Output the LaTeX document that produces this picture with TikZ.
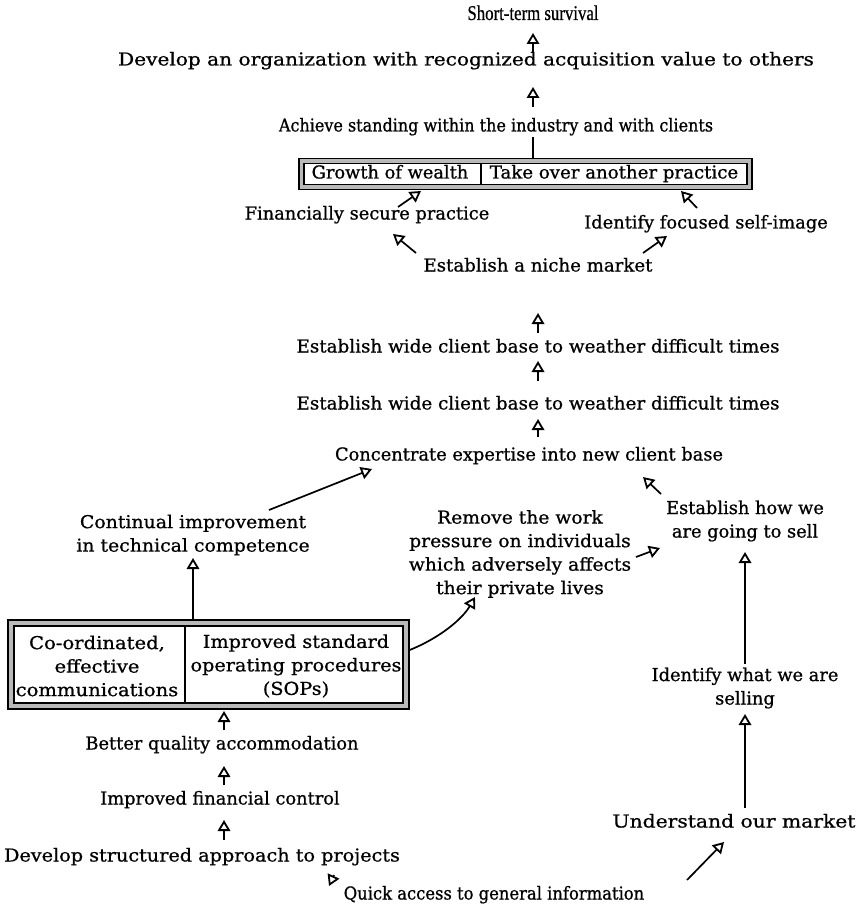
\documentclass[tikz,border=0pt]{standalone}
\usepackage{fontspec}
\setmainfont{DejaVu Serif}
\newfontfamily\titlefont{Liberation Serif}
\usetikzlibrary{arrows.meta,calc}
\begin{document}
\begin{tikzpicture}[x=1pt,y=-1pt,
  lbl/.style={inner sep=0pt, text height=13pt, text depth=4pt,
    font=\fontsize{17.8}{23.5}\selectfont\addfontfeature{FakeStretch=#1,FakeBold=0.8}},
  lbl/.default=1,
  lblm/.style={inner sep=0pt, align=center,
    font=\fontsize{17.8}{23.5}\selectfont\addfontfeature{FakeStretch=#1,FakeBold=0.8}},
  lblm/.default=1,
  arr/.style={line width=1.7pt, -{Triangle[open, length=11pt, width=12.5pt, line width=1.8pt]}},
  link/.style={line width=1.7pt},
  frame/.style={draw, line width=1.3pt, fill=gray!55, inner sep=0pt},
  cell/.style={draw, line width=1.3pt, fill=white, inner sep=0pt},
]
\useasboundingbox (0,0) rectangle (859,909);

% ---------- upper chain ----------
\node[inner sep=0pt, font=\titlefont\fontsize{21}{24}\selectfont\addfontfeature{FakeStretch=0.8,FakeBold=0.6}, text height=14pt, text depth=4pt] (n1) at (533,15) {Short-term survival};
\node[lbl=1.13] (n2) at (466,61) {Develop an organization with recognized acquisition value to others};
\node[lbl=0.9] (n3) at (496,127) {Achieve standing within the industry and with clients};

% framed pair of goals
\node[frame, minimum width=453pt, minimum height=31pt] (b1) at (525.5,174) {};
\node[cell, minimum width=443pt, minimum height=21pt] (b1in) at (b1) {};
\draw[line width=1.3pt] (b1in.north -| 481,0) -- (b1in.south -| 481,0);
\node[lbl] (g1) at (390,174) {Growth of wealth};
\node[lbl=1.02] (g2) at (614,174) {Take over another practice};

\node[lbl] (n4) at (367,215) {Financially secure practice};
\node[lbl] (n5) at (706,224) {Identify focused self-image};
\node[lbl=1.02] (n6) at (538,267) {Establish a niche market};
\node[lbl=1.03] (n7) at (538,348) {Establish wide client base to weather difficult times};
\node[lbl=1.03] (n8) at (538,405) {Establish wide client base to weather difficult times};
\node[lbl] (n9) at (529,456) {Concentrate expertise into new client base};

\node[lblm] (n10) at (745,521) {Establish how we\\are going to sell};
\node[lblm=1.05] (n11) at (520,554) {Remove the work\\pressure on individuals\\which adversely affects\\their private lives};
\node[lblm=1.06] (n12) at (193,535) {Continual improvement\\in technical competence};

% framed pair at the lower left
\node[frame, minimum width=401pt, minimum height=89pt] (b2) at (208.5,664.5) {};
\node[cell, minimum width=389pt, minimum height=77pt] (b2in) at (b2) {};
\draw[line width=2pt] (b2in.north -| 184.5,0) -- (b2in.south -| 184.5,0);
\node[lblm=1.1] (c1) at (97,666) {Co-ordinated,\\effective\\communications};
\node[lblm=1.08] (c2) at (296,666) {Improved standard\\operating procedures\\(SOPs)};

\node[lbl] (n13) at (222,745) {Better quality accommodation};
\node[lbl] (n14) at (220,800) {Improved financial control};
\node[lbl=1.08] (n15) at (202,857) {Develop structured approach to projects};
\node[lbl=0.92] (n16) at (494,895) {Quick access to general information};
\node[lbl=1.14] (n17) at (734,823) {Understand our market};
\node[lblm] (n18) at (745,688) {Identify what we are\\selling};

% ---------- connectors ----------
\draw[arr] ($(n1 |- n2)+(0,-8)$) -- ($(n1)+(0,18)$);
\draw[arr] ($(n1 |- n3)+(0,-20)$) -- ($(n1 |- n2)+(0,26)$);
\draw[link] ($(n1 |- n3)+(0,10)$) -- (n1 |- b1.north);

\draw[arr] ($(n4)+(31,-8)$) -- ($(g1)+(31,17)$);
\draw[arr] ($(n5)+(-9,-16)$) -- ($(g2)+(67,17)$);
\draw[arr] ($(n6)+(-122,-14)$) -- ($(n4)+(26,19)$);
\draw[arr] ($(n6)+(105,-14)$) -- ($(n5)+(-39,12)$);
\draw[arr] ($(n7)+(0,-15)$) -- ($(n6)+(0,46)$);
\draw[arr] ($(n8)+(0,-24)$) -- ($(n7)+(0,13)$);
\draw[arr] ($(n9 -| n8)+(0,-19)$) -- ($(n8)+(0,14)$);

\draw[arr] ($(n12)+(76,-25)$) -- ($(n9)+(-157,13)$);
\draw[arr] ($(n10)+(-84,-27)$) -- ($(n9)+(114,21)$);
\draw[arr] ($(n11)+(116,3)$) -- ($(n10)+(-85,27)$);
\draw[arr] ($(b2.east)+(0,-14.5)$) .. controls ($(b2.east)+(31,-27)$) and ($(b2.east)+(53,-46)$) .. ($(n11)+(-45,43)$);
\draw[arr] (n12 |- b2.north) -- ($(n12)+(0,23)$);

\draw[arr] ($(n13)+(2,-15)$) -- ($(n13)+(2,-34)$);
\draw[arr] ($(n14)+(4,-15)$) -- ($(n13)+(2,21)$);
\draw[arr] ($(n15)+(22,-17)$) -- ($(n14)+(4,20)$);
\draw[arr] ($(n16)+(-160,-20)$) -- ($(n16)+(-165,-9)$);
\draw[arr] ($(n16)+(193,-15)$) -- ($(n17)+(-10,19)$);
\draw[arr] ($(n17)+(11,-15)$) -- ($(n18)+(0,26)$);
\draw[arr] ($(n18)+(0,-24)$) -- ($(n10)+(0,31)$);
\end{tikzpicture}
\end{document}
